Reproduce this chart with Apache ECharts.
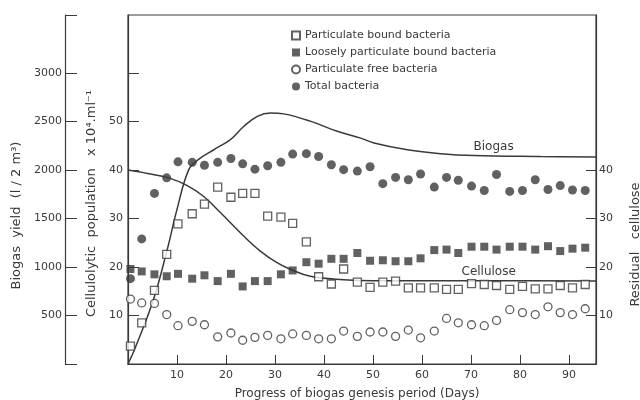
<!DOCTYPE html>
<html>
<head>
<meta charset="utf-8">
<script src="https://cdn.jsdelivr.net/npm/echarts@6/dist/echarts.min.js"></script>
<style>html,body{margin:0;padding:0;background:#fff}#c{width:640px;height:400px}</style>
</head>
<body>
<div id="c"></div>
<script>
// ---- data ----
const days = [0.5, 2.8, 5.4, 7.9, 10.2, 13.1, 15.6, 18.3, 21.0, 23.4, 25.9, 28.5, 31.2, 33.6, 36.4, 38.9, 41.5, 44.0, 46.8, 49.4, 52.0, 54.6, 57.2, 59.7, 62.5, 65.0, 67.4, 70.1, 72.7, 75.2, 77.9, 80.5, 83.1, 85.7, 88.2, 90.7, 93.3];
const particulateBound = [3.7, 8.5, 15.2, 22.6, 28.9, 31.0, 33.0, 36.5, 34.4, 35.2, 35.2, 30.5, 30.3, 29.0, 25.2, 18.0, 16.5, 19.6, 16.9, 15.8, 16.9, 17.1, 15.7, 15.7, 15.7, 15.4, 15.4, 16.6, 16.4, 16.2, 15.4, 16.0, 15.5, 15.5, 16.2, 15.7, 16.4];
const looselyBound = [19.6, 19.1, 18.5, 18.1, 18.6, 17.6, 18.3, 17.1, 18.6, 16.0, 17.1, 17.1, 18.5, 19.3, 21.0, 20.7, 21.7, 21.7, 22.9, 21.3, 21.4, 21.2, 21.2, 21.8, 23.5, 23.6, 22.9, 24.2, 24.2, 23.6, 24.2, 24.2, 23.6, 24.3, 23.3, 23.8, 24.0];
const particulateFree = [13.4, 12.6, 12.5, 10.2, 7.9, 8.8, 8.1, 5.6, 6.4, 4.9, 5.5, 5.9, 5.2, 6.2, 5.9, 5.2, 5.2, 6.8, 5.7, 6.6, 6.6, 5.7, 7.0, 5.4, 6.8, 9.4, 8.5, 8.1, 7.9, 9.0, 11.2, 10.6, 10.2, 11.8, 10.6, 10.2, 11.4];
const totalBacteria = [17.6, 25.8, 35.2, 38.4, 41.7, 41.6, 41.0, 41.6, 42.4, 41.3, 40.2, 40.9, 41.6, 43.3, 43.4, 42.8, 41.1, 40.1, 39.8, 40.7, 37.2, 38.5, 38.0, 39.2, 36.5, 38.5, 37.9, 36.7, 35.8, 39.1, 35.6, 35.8, 38.0, 36.0, 36.8, 35.9, 35.8];

const biogasDays = [0, 1.5, 5.2, 8, 10, 12.4, 14.4, 17.5, 20.9, 23.6, 26.4, 29.1, 31.8, 37.2, 42.7, 47.5, 50.2, 57, 63.8, 70.6, 84.2, 95.5];
const biogasYield = [0, 170, 665, 1180, 1595, 2005, 2110, 2210, 2315, 2450, 2555, 2590, 2580, 2505, 2400, 2330, 2280, 2210, 2170, 2150, 2140, 2135];

const celluloseDays = [0, 4, 8.3, 12.1, 15.4, 18.9, 23.6, 27, 30.4, 33.2, 37.2, 44, 50, 60, 75, 95.5];
const residualCellulose = [40, 39.3, 38.4, 36.8, 34.6, 31.2, 26.4, 23.3, 20.9, 19.5, 18.1, 17.4, 17.2, 17.2, 17.2, 17.1];

const xTicks = [10, 20, 30, 40, 50, 60, 70, 80, 90];
const biogasTicks = [0, 500, 1000, 1500, 2000, 2500, 3000, 3600];
const biogasLabels = [500, 1000, 1500, 2000, 2500, 3000];
const popTicks = [10, 20, 30, 40, 50, 60];
const popLabels = [10, 20, 30, 40, 50];
const cellTicks = [10, 20, 30, 40];

const names = ['Particulate bound bacteria', 'Loosely particulate bound bacteria', 'Particulate free bacteria', 'Total bacteria'];

// ---- chart ----
const ink = '#3a3a3a';
const font = 'DejaVu Sans';
const pair = (xs, ys) => xs.map((x, i) => [x, ys[i]]);
const plain = v => String(v);

const chart = echarts.init(document.getElementById('c'), null, {renderer: 'canvas'});
const tickStyle = {color: ink, fontFamily: font, fontSize: 11, formatter: plain};
chart.setOption({
  animation: false,
  backgroundColor: '#fff',
  textStyle: {fontFamily: font},
  grid: {left: 128, right: 44, top: 15, bottom: 36, show: true, borderColor: ink, borderWidth: 1.2, outerBoundsMode: 'none', containLabel: false},
  legend: {
    data: names, orient: 'vertical', left: 286, top: 25, itemWidth: 8, itemHeight: 8, itemGap: 6,
    textStyle: {color: ink, fontFamily: font, fontSize: 11}, selectedMode: false
  },
  xAxis: {
    type: 'value', min: 0, max: 95.5, interval: 10,
    name: 'Progress of biogas genesis period (Days)', nameLocation: 'middle', nameGap: 24,
    nameTextStyle: {color: ink, fontFamily: font, fontSize: 12, padding: [0, 10, 0, 0]},
    axisLine: {lineStyle: {color: ink, width: 1.2}},
    axisTick: {inside: true, length: 9, customValues: xTicks, lineStyle: {color: ink}},
    axisLabel: Object.assign({customValues: xTicks, margin: 6}, tickStyle),
    splitLine: {show: false}
  },
  yAxis: [
    {
      type: 'value', min: 0, max: 72, position: 'left',
      name: 'Cellulolytic  population   x 10\u2074.ml\u207B\u00B9', nameLocation: 'middle', nameRotate: 90, nameGap: 25,
      nameTextStyle: {color: ink, fontFamily: font, fontSize: 13, padding: [0, 28, 0, 0]},
      axisLine: {show: true, lineStyle: {color: ink, width: 1.2}},
      axisTick: {show: true, inside: true, length: 11, customValues: popTicks, lineStyle: {color: ink}},
      axisLabel: Object.assign({customValues: popLabels, margin: 5}, tickStyle),
      splitLine: {show: false}
    },
    {
      type: 'value', min: 0, max: 3600, position: 'left', offset: 63,
      name: 'Biogas  yield  (l / 2 m\u00B3)', nameLocation: 'middle', nameRotate: 90, nameGap: 35,
      nameTextStyle: {color: ink, fontFamily: font, fontSize: 13, padding: [0, 52, 0, 0]},
      axisLine: {show: true, lineStyle: {color: ink, width: 1.2}},
      axisTick: {show: true, inside: true, length: 12, customValues: biogasTicks, lineStyle: {color: ink}},
      axisLabel: Object.assign({customValues: biogasLabels, margin: 3}, tickStyle),
      splitLine: {show: false}
    },
    {
      type: 'value', min: 0, max: 72, position: 'right',
      name: 'Residual   cellulose', nameLocation: 'middle', nameRotate: 90, nameGap: 33,
      nameTextStyle: {color: ink, fontFamily: font, fontSize: 13, padding: [0, 110, 0, 0]},
      axisLine: {show: true, lineStyle: {color: ink, width: 1.2}},
      axisTick: {show: true, inside: true, length: 10, customValues: cellTicks, lineStyle: {color: ink}},
      axisLabel: Object.assign({customValues: cellTicks, margin: 3}, tickStyle),
      splitLine: {show: false}
    }
  ],
  series: [
    {
      name: names[0], type: 'scatter', yAxisIndex: 0, symbol: 'rect', symbolSize: 8,
      itemStyle: {color: '#fff', borderColor: ink, borderWidth: 1.3},
      data: pair(days, particulateBound), z: 3
    },
    {
      name: names[1], type: 'scatter', yAxisIndex: 0, symbol: 'rect', symbolSize: 8,
      itemStyle: {color: ink},
      data: pair(days, looselyBound), z: 3
    },
    {
      name: names[2], type: 'scatter', yAxisIndex: 0, symbol: 'circle', symbolSize: 8,
      itemStyle: {color: '#fff', borderColor: ink, borderWidth: 1.3},
      data: pair(days, particulateFree), z: 3
    },
    {
      name: names[3], type: 'scatter', yAxisIndex: 0, symbol: 'circle', symbolSize: 9,
      itemStyle: {color: ink},
      data: pair(days, totalBacteria), z: 3
    },
    {
      name: 'Biogas', type: 'line', yAxisIndex: 1, smooth: 0.4, showSymbol: false, symbol: 'none',
      lineStyle: {color: ink, width: 1.5},
      data: pair(biogasDays, biogasYield),
      markPoint: {
        symbol: 'circle', symbolSize: 0,
        label: {show: true, formatter: 'Biogas', color: ink, fontFamily: font, fontSize: 12, position: 'inside'},
        data: [{coord: [74.6, 2240]}]
      }
    },
    {
      name: 'Cellulose', type: 'line', yAxisIndex: 2, smooth: 0.4, showSymbol: false, symbol: 'none',
      lineStyle: {color: ink, width: 1.5},
      data: pair(celluloseDays, residualCellulose),
      markPoint: {
        symbol: 'circle', symbolSize: 0,
        label: {show: true, formatter: 'Cellulose', color: ink, fontFamily: font, fontSize: 12, position: 'inside'},
        data: [{coord: [73.6, 19.1]}]
      }
    }
  ]
});
</script>
</body>
</html>
